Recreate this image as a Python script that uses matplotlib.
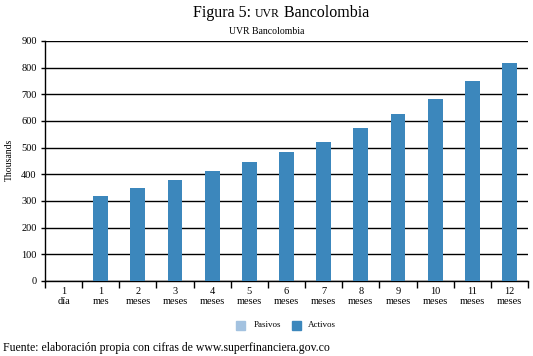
import matplotlib
matplotlib.use("Agg")
import matplotlib.pyplot as plt
import numpy as np
from matplotlib.patches import Rectangle

plt.rcParams['font.family'] = ['Liberation Serif', 'DejaVu Serif']

categories = ["1\ndía", "1\nmes", "2\nmeses", "3\nmeses", "4\nmeses", "5\nmeses", "6\nmeses",
              "7\nmeses", "8\nmeses", "9\nmeses", "10\nmeses", "11\nmeses", "12\nmeses"]
pasivos = [0, 0, 0, 0, 0, 0, 0, 0, 0, 0, 0, 0, 0]
activos = [0, 318, 348, 379, 411, 445, 482, 523, 574, 628, 682, 751, 816]
yticks = [0, 100, 200, 300, 400, 500, 600, 700, 800, 900]

W, H = 533, 356
fig = plt.figure(figsize=(W / 100, H / 100), dpi=100)
ax = fig.add_axes([45 / W, 1 - 281 / H, (528 - 45) / W, (281 - 41) / H])

x = np.arange(len(categories))
c_act = '#3C87BC'
c_pas = '#A3C2E0'
ax.bar(x, pasivos, width=0.40, color=c_pas, zorder=3)
ax.bar(x, activos, width=0.40, color=c_act, zorder=3)

ax.set_xlim(-0.5, len(categories) - 0.5)
ax.set_ylim(0, 900)
ax.set_yticks(yticks)
ax.set_yticklabels([str(v) for v in yticks], fontsize=7.5)
for v in yticks:
    ax.axhline(v, color='black', lw=1.0, zorder=1)

ax.set_xticks(x)
ax.set_xticklabels(categories, fontsize=7.5, linespacing=1.2)
ax.tick_params(axis='x', which='major', length=0, pad=4)
ax.set_xticks(np.arange(-0.5, len(categories), 1.0), minor=True)
ax.tick_params(axis='x', which='minor', length=5, width=1, color='black', direction='out')
ax.tick_params(axis='y', length=3, width=1, pad=3)

for s in ['top', 'right']:
    ax.spines[s].set_visible(False)
ax.spines['left'].set_linewidth(1)
ax.spines['bottom'].set_linewidth(1)

fig.text(9 / W, 1 - 160 / H, "Thousands", fontsize=7, rotation=90, ha='center', va='center')

# Title with small-caps style "UVR"
fig.canvas.draw()
r = fig.canvas.get_renderer()
ty = 1 - 17 / H
parts = [("Figura 5: ", 11.5), ("UVR", 8.5), (" Bancolombia", 11.5)]
texts = []
total = 0
for s, fs in parts:
    t = fig.text(0, ty, s, fontsize=fs, ha='left', va='baseline')
    bb = t.get_window_extent(renderer=r)
    texts.append((t, bb.width))
    total += bb.width
x0 = 281 - total / 2
for t, w in texts:
    t.set_position((x0 / W, ty))
    x0 += w

fig.text(267 / W, 1 - 31 / H, "UVR Bancolombia", fontsize=7, ha='center', va='center')

# Legend
ly = 1 - 325 / H
sq = 9
fig.patches.append(Rectangle((236 / W, ly - sq / 2 / H), sq / W, sq / H, color=c_pas, transform=fig.transFigure, figure=fig))
fig.text(254 / W, ly, "Pasivos", fontsize=6.5, ha='left', va='center')
fig.patches.append(Rectangle((292 / W, ly - sq / 2 / H), sq / W, sq / H, color=c_act, transform=fig.transFigure, figure=fig))
fig.text(308 / W, ly, "Activos", fontsize=6.5, ha='left', va='center')

fig.text(3 / W, 1 - 348 / H, "Fuente: elaboración propia con cifras de www.superfinanciera.gov.co",
         fontsize=8.5, ha='left', va='center')

fig.savefig("out.png", dpi=100)
